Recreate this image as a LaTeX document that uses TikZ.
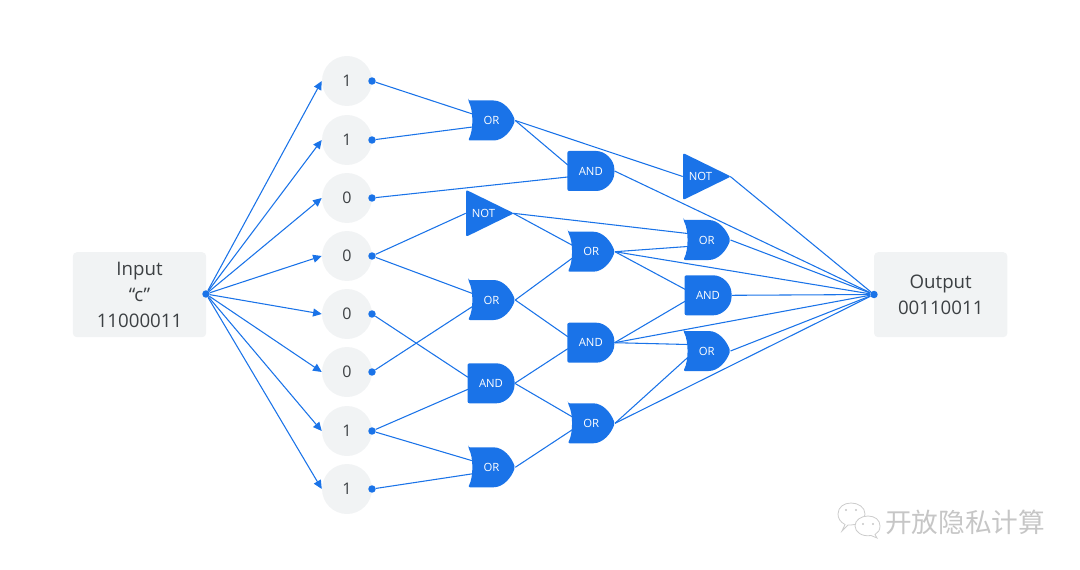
\documentclass[tikz,border=0pt]{standalone}
\usepackage{fontspec}
\setmainfont{Open Sans}
\newfontfamily\cjkfont{Noto Sans CJK SC}
\usetikzlibrary{arrows.meta,backgrounds}
\definecolor{gateblue}{HTML}{1A73E8}
\definecolor{boxgray}{HTML}{F1F3F4}
\definecolor{inkgray}{HTML}{3C4043}
\tikzset{
    wire/.style={gateblue, line width=0.8pt},
    arrowwire/.style={wire, -{Triangle[length=6.5pt,width=6pt]}},
    dot/.style={circle, fill=gateblue, inner sep=0pt, minimum size=5.6pt},
    bit/.style={circle, fill=boxgray, text=inkgray, inner sep=0pt, minimum size=37.5pt, font=\fontsize{12}{14}\selectfont},
    endbox/.style={rectangle, rounded corners=3pt, fill=boxgray, text=inkgray, align=center, inner sep=0pt,
        minimum width=100pt, minimum height=63.75pt, font=\fontsize{14}{19.5}\selectfont},
    gatebox/.style={rectangle, inner sep=0pt, text=white, minimum width=35.25pt, minimum height=30pt, font=\fontsize{8.5}{10}\selectfont},
}
% gates: name, position
\newcommand{\orgate}[2]{
    \fill[gateblue, shift={(#2)}, rounded corners=1.5pt] (-23.5,-20) -- (0,-20) .. controls (12,-20) and (20,-10) .. (23.5,0)
        .. controls (20,10) and (12,20) .. (0,20) -- (-23.5,20) .. controls (-18,10) and (-18,-10) .. cycle;
    \node[gatebox] (#1) at (#2) {OR};
    \coordinate (#1a) at ([shift={(-19,-6.5)}]#2);
    \coordinate (#1b) at ([shift={(-19,6.5)}]#2);
}
\newcommand{\andgate}[2]{
    \fill[gateblue, shift={(#2)}, rounded corners=1.5pt] (-23.5,-20) -- (3.5,-20) .. controls (14.5,-20) and (23.5,-11) .. (23.5,0)
        .. controls (23.5,11) and (14.5,20) .. (3.5,20) -- (-23.5,20) -- cycle;
    \node[gatebox] (#1) at (#2) {AND};
    \coordinate (#1a) at ([shift={(-23,-6)}]#2);
    \coordinate (#1b) at ([shift={(-23,6)}]#2);
}
\newcommand{\notgate}[2]{
    \fill[gateblue, shift={(#2)}, rounded corners=1.5pt] (-23.5,-23.5) -- (24.5,0) -- (-23.5,23.5) -- cycle;
    \node[gatebox] (#1) at (#2) {};
    \node[gatebox, minimum width=0pt] (#1t) at ([xshift=-4.5pt]#2) {NOT};
}
\begin{document}
\begin{tikzpicture}[x=0.75pt, y=-0.75pt]
    \useasboundingbox (0,0) rectangle (1080,570);

    % Input and output boxes
    \node[endbox] (input) at (139.5,294.7) {Input\\“c”\\11000011};
    \node[endbox] (output) at (940.7,294.7) {Output\\00110011};
    \node[dot] (inDot) at (206,294) {};
    \node[dot] (outDot) at (874,294.5) {};

    % Input bits
    \node[bit] (b1) at (347,81) {1};
    \node[bit] (b2) at (347,140) {1};
    \node[bit] (b3) at (347,198) {0};
    \node[bit] (b4) at (347,256) {0};
    \node[bit] (b5) at (347,314) {0};
    \node[bit] (b6) at (347,372) {0};
    \node[bit] (b7) at (347,431) {1};
    \node[bit] (b8) at (347,489) {1};
    \node[dot] (d1) at (372,81) {};
    \node[dot] (d2) at (372,140) {};
    \node[dot] (d3) at (372,198) {};
    \node[dot] (d4) at (372,256) {};
    \node[dot] (d5) at (372,314) {};
    \node[dot] (d6) at (372,372) {};
    \node[dot] (d7) at (372,431) {};
    \node[dot] (d8) at (372,489) {};

    % First column of gates
    \orgate{orA}{491.5,120.5}
    \notgate{notB}{489.5,213.3}
    \orgate{orC}{491.5,300}
    \andgate{andD}{491,383.3}
    \orgate{orE}{491.5,467.3}

    % Second column of gates
    \andgate{andF}{590.8,171}
    \orgate{orG}{591.2,251.7}
    \andgate{andH}{590.8,342.7}
    \orgate{orJ}{591.2,423.3}

    % Third column of gates
    \notgate{notK}{706.5,176.5}
    \orgate{orL}{706.7,240}
    \andgate{andM}{708,295.3}
    \orgate{orN}{706.7,351}

    % Wires go behind the gates
    \begin{pgfonlayer}{background}
        \draw[arrowwire] (inDot) -- (b1.west);
        \draw[arrowwire] (inDot) -- (b2.west);
        \draw[arrowwire] (inDot) -- (b3.west);
        \draw[arrowwire] (inDot) -- (b4.west);
        \draw[arrowwire] (inDot) -- (b5.west);
        \draw[arrowwire] (inDot) -- (b6.west);
        \draw[arrowwire] (inDot) -- (b7.west);
        \draw[arrowwire] (inDot) -- (b8.west);

        \draw[wire] (d1) -- (orAa);
        \draw[wire] (d2) -- (orAb);
        \draw[wire] (d3) -- (andFb);
        \draw[wire] (d4) -- (notB.west);
        \draw[wire] (d4) -- (orCa);
        \draw[wire] (d5) -- (andDa);
        \draw[wire] (d6) -- (orCb);
        \draw[wire] (d7) -- (andDb);
        \draw[wire] (d7) -- (orEa);
        \draw[wire] (d8) -- (orEb);

        \draw[wire] (orA.east) -- (andFa);
        \draw[wire] (orA.east) -- (notK.west);
        \draw[wire] (notB.east) -- (orGa);
        \draw[wire] (notB.east) -- (orLa);
        \draw[wire] (orC.east) -- (orGb);
        \draw[wire] (orC.east) -- (andHa);
        \draw[wire] (andD.east) -- (andHb);
        \draw[wire] (andD.east) -- (orJa);
        \draw[wire] (orE.east) -- (orJb);

        \draw[wire] (orG.east) -- (orLb);
        \draw[wire] (orG.east) -- (andMa);
        \draw[wire] (andH.east) -- (andMb);
        \draw[wire] (andH.east) -- (orNa);
        \draw[wire] (orJ.east) -- (orNb);

        % Everything that ends at the output
        \draw[wire] (andF.east) -- (outDot);
        \draw[wire] (notK.east) -- (outDot);
        \draw[wire] (orL.east) -- (outDot);
        \draw[wire] (orG.east) -- (outDot);
        \draw[wire] (andM.east) -- (outDot);
        \draw[wire] (andH.east) -- (outDot);
        \draw[wire] (orN.east) -- (outDot);
        \draw[wire] (orJ.east) -- (outDot);
    \end{pgfonlayer}

    % Watermark in the corner
    \draw[gray!40, line width=0.6pt, fill=white] (842,531) -- (845,524.5) .. controls (840,522) and (838,518) .. (838,514)
        .. controls (838,507) and (844,503) .. (851,503) .. controls (858,503) and (865,507) .. (865,514)
        .. controls (865,521) and (858,525) .. (851,525) -- (848,525) -- cycle;
    \draw[gray!40, line width=0.6pt, fill=white] (855,526) .. controls (855,520) and (861,516) .. (868,516)
        .. controls (875,516) and (880,520) .. (880,526) .. controls (880,530) and (878,533) .. (875,534.5)
        -- (877,538) -- (871,535.5) .. controls (862,537) and (855,532) .. (855,526) -- cycle;
    \fill[gray!45] (846,510) circle (1.2) (856,510) circle (1.2) (863,524) circle (1.2) (873,524) circle (1.2);
    \node[text=gray!45, font=\cjkfont\fontsize{20}{22}\selectfont, inner sep=0pt] (mark) at (965,522.5) {开放隐私计算};
\end{tikzpicture}
\end{document}
